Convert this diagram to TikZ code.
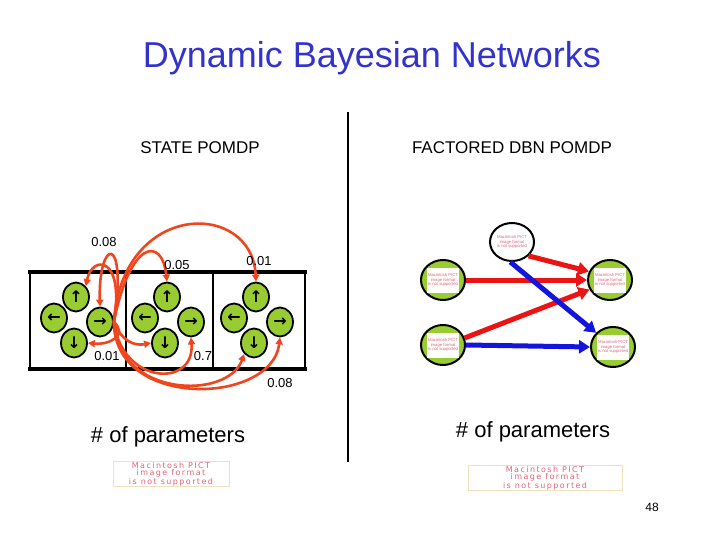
\documentclass[tikz,border=0pt]{standalone}
\usepackage{fontspec}
\setmainfont{Liberation Sans}
\newfontfamily\symfont{DejaVu Sans}
\newfontfamily\pictfont[LetterSpace=18]{DejaVu Sans}
\usetikzlibrary{arrows.meta,shapes.geometric}

\definecolor{slideblue}{RGB}{51,51,204}
\definecolor{leafgreen}{RGB}{153,204,51}
\definecolor{transred}{RGB}{240,70,30}
\definecolor{depred}{RGB}{235,20,20}
\definecolor{depblue}{RGB}{20,20,220}
\definecolor{pictred}{RGB}{225,100,120}
\definecolor{pictframe}{RGB}{240,225,190}

\tikzset{
  act/.style={ellipse,draw=black,line width=1.8pt,fill=leafgreen,minimum width=26pt,
    minimum height=29pt,inner sep=0pt,font=\symfont\bfseries\fontsize{16}{16}\selectfont},
  trans/.style={draw=transred,line width=2.6pt,-{Triangle[length=7pt,width=7pt]}},
  var/.style={ellipse,draw=black,line width=2pt,fill=leafgreen,minimum width=44pt,
    minimum height=40pt,inner sep=0pt},
  dep/.style={line width=5pt,-{Triangle[length=11pt,width=13pt]}},
  pict/.style={fill=white,text=pictred,align=center,inner sep=1pt,minimum width=27pt,
    minimum height=25pt,font=\fontsize{4.2}{4.8}\selectfont},
  bigpict/.style={draw=pictframe,line width=1pt,text=pictred,align=center,inner sep=1pt,
    minimum width=116pt,minimum height=25pt,font=\pictfont\fontsize{8}{7}\selectfont},
  prob/.style={font=\fontsize{13}{13}\selectfont},
}

\begin{document}
\begin{tikzpicture}[x=1pt,y=-1pt]
  \useasboundingbox (0,0) rectangle (720,540);

  % Titles
  \node[text=slideblue,font=\fontsize{36}{36}\selectfont] (title) at (372,58) {Dynamic Bayesian Networks};
  \node[font=\fontsize{17}{17}\selectfont] (statehd) at (200,148) {STATE POMDP};
  \node[font=\fontsize{17}{17}\selectfont] (factorhd) at (512,148) {FACTORED DBN POMDP};
  \draw[line width=2pt] (348,112) -- (348,462);

  % State cells
  \foreach \xa/\xb in {30/126,126/213,213/305} \draw[line width=1.5pt] (\xa,272) rectangle (\xb,369);
  \draw[line width=4pt] (28,272) -- (307,272);
  \draw[line width=4pt] (28,369) -- (307,369);

  \foreach \c/\dx in {1/0,2/91,3/180} {
    \node[act] (u\c) at (76+\dx,297) {↑};
    \node[act] (l\c) at (54+\dx,318) {←};
    \node[act] (r\c) at (100+\dx,322) {→};
    \node[act] (d\c) at (74+\dx,343) {↓};
  }

  % Transitions out of r1
  \draw[trans] (r1.east) .. controls (125,255) and (92,255) .. (u1.north east);
  \draw[trans] (r1.east) .. controls (128,232) and (98,238) .. (r1.north);
  \draw[trans] (r1.east) .. controls (130,240) and (162,236) .. (u2.north);
  \draw[trans] (r1.east) .. controls (122,200) and (252,200) .. (u3.north);
  \draw[trans] (r1.east) .. controls (128,335) and (110,345) .. (d1.east);
  \draw[trans] (r1.east) .. controls (122,342) and (135,346) .. (d2.west);
  \draw[trans] (r1.east) .. controls (122,385) and (195,388) .. (r2.south);
  \draw[trans] (r1.east) .. controls (118,398) and (228,400) .. (d3.south west);
  \draw[trans] (r1.east) .. controls (114,410) and (272,405) .. (r3.south);

  % Probabilities
  \node[prob] (p1) at (104,242) {0.08};
  \node[prob] (p2) at (177,265) {0.05};
  \node[prob] (p3) at (259,261) {0.01};
  \node[prob] (p4) at (107,356) {0.01};
  \node[prob] (p5) at (203,356) {0.7};
  \node[prob] (p6) at (280,383) {0.08};

  % Factored network
  \node[var,fill=white,minimum height=38pt] (obs) at (512,242) {};
  \node[var] (lt) at (443,280) {};
  \node[var] (lb) at (443,345) {};
  \node[var] (rt) at (610,280) {};
  \node[var] (rb) at (613,347) {};
  \node[pict,fill=none] (obsimg) at (obs) {Macintosh PICT\\image format\\is not supported};
  \foreach \v in {lt,lb,rt,rb}
    \node[pict] (\v img) at (\v) {Macintosh PICT\\image format\\is not supported};

  \draw[dep,draw=depred] (obs.-40) -- (rt.158);
  \draw[dep,draw=depred] (lt.east) -- (rt.west);
  \draw[dep,draw=depred] (lb.18) -- (rt.205);
  \draw[dep,draw=depblue] (obs.-95) -- (rb.140);
  \draw[dep,draw=depblue] (lb.east) -- (rb.west);

  % Parameter counts
  \node[font=\fontsize{22}{22}\selectfont] (nleft) at (168,437) {\# of parameters};
  \node[font=\fontsize{22}{22}\selectfont] (nright) at (533,432) {\# of parameters};
  \node[bigpict] (pictl) at (171,474) {Macintosh PICT\\image format\\is not supported};
  \node[bigpict,minimum width=154pt] (pictr) at (545,478) {Macintosh PICT\\image format\\is not supported};
  \node[font=\fontsize{12}{12}\selectfont] (pageno) at (652,507) {48};
\end{tikzpicture}
\end{document}
